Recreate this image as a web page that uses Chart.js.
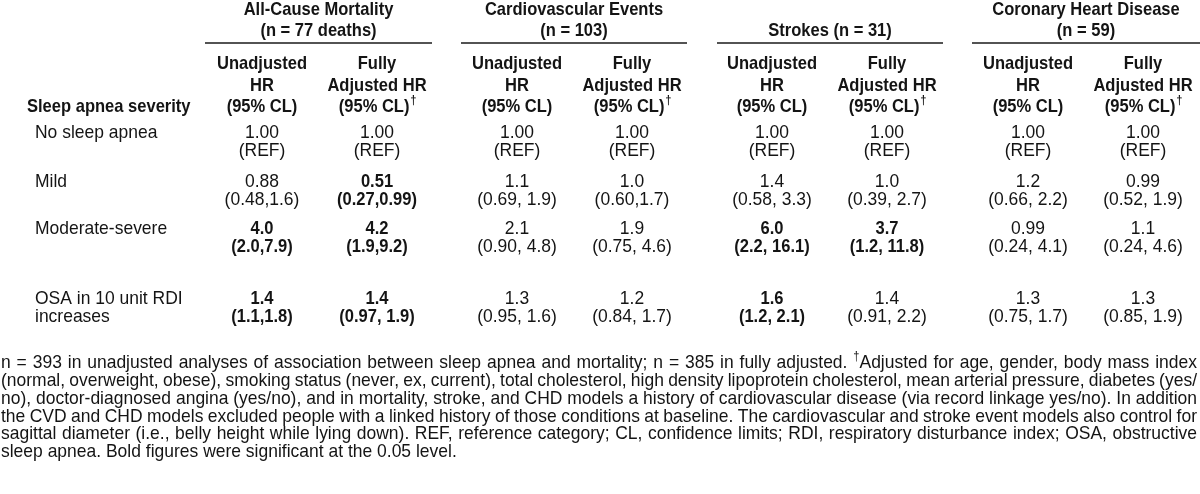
<!DOCTYPE html>
<html><head><meta charset="utf-8">
<script src="https://cdn.jsdelivr.net/npm/chart.js@4.4.1/dist/chart.umd.min.js"></script>
<style>html,body{margin:0;padding:0;background:#fff;}#wrap{width:1200px;height:494px;}</style>
</head><body><div id="wrap"><canvas id="c" width="1200" height="494"></canvas></div>
<script>
// ---------------- DATA ----------------
const outcomes = ['All-Cause Mortality', 'Cardiovascular Events', 'Strokes', 'Coronary Heart Disease'];
const outcomeCounts = ['(n = 77 deaths)', '(n = 103)', '(n = 31)', '(n = 59)'];
const unadjustedHeader = ['Unadjusted', 'HR', '(95% CL)'];
const adjustedHeader = ['Fully', 'Adjusted HR', '(95% CL)'];
const rowHeader = 'Sleep apnea severity';
const severityLabels = [['No sleep apnea'], ['Mild'], ['Moderate-severe'], ['OSA in 10 unit RDI', 'increases']];

const mortalityUnadjHR = ['1.00', '0.88', '4.0', '1.4'];
const mortalityUnadjCL = ['(REF)', '(0.48,1.6)', '(2.0,7.9)', '(1.1,1.8)'];
const mortalityUnadjSig = [false, false, true, true];
const mortalityAdjHR = ['1.00', '0.51', '4.2', '1.4'];
const mortalityAdjCL = ['(REF)', '(0.27,0.99)', '(1.9,9.2)', '(0.97, 1.9)'];
const mortalityAdjSig = [false, true, true, true];

const cvdUnadjHR = ['1.00', '1.1', '2.1', '1.3'];
const cvdUnadjCL = ['(REF)', '(0.69, 1.9)', '(0.90, 4.8)', '(0.95, 1.6)'];
const cvdUnadjSig = [false, false, false, false];
const cvdAdjHR = ['1.00', '1.0', '1.9', '1.2'];
const cvdAdjCL = ['(REF)', '(0.60,1.7)', '(0.75, 4.6)', '(0.84, 1.7)'];
const cvdAdjSig = [false, false, false, false];

const strokeUnadjHR = ['1.00', '1.4', '6.0', '1.6'];
const strokeUnadjCL = ['(REF)', '(0.58, 3.3)', '(2.2, 16.1)', '(1.2, 2.1)'];
const strokeUnadjSig = [false, false, true, true];
const strokeAdjHR = ['1.00', '1.0', '3.7', '1.4'];
const strokeAdjCL = ['(REF)', '(0.39, 2.7)', '(1.2, 11.8)', '(0.91, 2.2)'];
const strokeAdjSig = [false, false, true, false];

const chdUnadjHR = ['1.00', '1.2', '0.99', '1.3'];
const chdUnadjCL = ['(REF)', '(0.66, 2.2)', '(0.24, 4.1)', '(0.75, 1.7)'];
const chdUnadjSig = [false, false, false, false];
const chdAdjHR = ['1.00', '0.99', '1.1', '1.3'];
const chdAdjCL = ['(REF)', '(0.52, 1.9)', '(0.24, 4.6)', '(0.85, 1.9)'];
const chdAdjSig = [false, false, false, false];

const footnoteLines = [
  'n = 393 in unadjusted analyses of association between sleep apnea and mortality; n = 385 in fully adjusted. \u2020Adjusted for age, gender, body mass index',
  '(normal, overweight, obese), smoking status (never, ex, current), total cholesterol, high density lipoprotein cholesterol, mean arterial pressure, diabetes (yes/',
  'no), doctor-diagnosed angina (yes/no), and in mortality, stroke, and CHD models a history of cardiovascular disease (via record linkage yes/no). In addition',
  'the CVD and CHD models excluded people with a linked history of those conditions at baseline. The cardiovascular and stroke event models also control for',
  'sagittal diameter (i.e., belly height while lying down). REF, reference category; CL, confidence limits; RDI, respiratory disturbance index; OSA, obstructive',
  'sleep apnea. Bold figures were significant at the 0.05 level.'
];

// ---------------- LAYOUT ----------------
const W = 1200, H = 494;
const FONT = '"Liberation Sans", Arial, Helvetica, sans-serif';
const SIZE = 19, SMALL = 12;
const SX_REG = 0.92, SX_BOLD = 0.87;
const INK = '#141414';
const COL_X = [262, 377, 517, 632, 772, 887, 1028, 1143];
const GROUP_SPAN = [[205, 432], [461, 687], [717, 943], [972, 1200]];
const GROUP_ONE_LINE = [false, false, true, false];
const TITLE_Y = [10, 31];
const RULE_Y = 43;
const SUB_Y = [64, 86, 107];
const ROW_Y = [133, 182, 229, 299];
const LINE_GAP = 18;
const LABEL_X = 35, HEADER_X = 27;
const FOOT_Y = 363, FOOT_GAP = 17.8, FOOT_L = 1, FOOT_R = 1197;

const columns = [
  [mortalityUnadjHR, mortalityUnadjCL, mortalityUnadjSig],
  [mortalityAdjHR, mortalityAdjCL, mortalityAdjSig],
  [cvdUnadjHR, cvdUnadjCL, cvdUnadjSig],
  [cvdAdjHR, cvdAdjCL, cvdAdjSig],
  [strokeUnadjHR, strokeUnadjCL, strokeUnadjSig],
  [strokeAdjHR, strokeAdjCL, strokeAdjSig],
  [chdUnadjHR, chdUnadjCL, chdUnadjSig],
  [chdAdjHR, chdAdjCL, chdAdjSig]
];

function f(bold, size) { return (bold ? 'bold ' : '') + size + 'px ' + FONT; }
function sx(bold) { return bold ? SX_BOLD : SX_REG; }
function txt(ctx, s, x, y, bold, align, size) {
  ctx.save();
  ctx.font = f(bold, size || SIZE);
  ctx.fillStyle = INK;
  ctx.textBaseline = 'middle';
  ctx.textAlign = align || 'center';
  ctx.translate(x, y);
  ctx.scale(sx(bold), 1);
  ctx.fillText(s, 0, 0);
  ctx.restore();
}
function mw(ctx, s, bold, size) { ctx.save(); ctx.font = f(bold, size || SIZE); const w = ctx.measureText(s).width * sx(bold); ctx.restore(); return w; }
function txtDagger(ctx, s, cx, y, bold) {
  const w = mw(ctx, s, bold), d = mw(ctx, '\u2020', bold, SMALL);
  const x0 = cx - (w + d) / 2;
  txt(ctx, s, x0, y, bold, 'left');
  txt(ctx, '\u2020', x0 + w + 1, y - 6, bold, 'left', SMALL);
}

const tablePlugin = {
  id: 'table',
  beforeDraw(chart) {
    const ctx = chart.ctx;
    ctx.save(); ctx.fillStyle = '#fff'; ctx.fillRect(0, 0, chart.width, chart.height); ctx.restore();
  },
  afterDatasetsDraw(chart) {
    const ctx = chart.ctx, xs = chart.scales.x, ys = chart.scales.y;
    outcomes.forEach((o, g) => {
      const x1 = xs.getPixelForValue(GROUP_SPAN[g][0]), x2 = xs.getPixelForValue(GROUP_SPAN[g][1]);
      const cx = (x1 + x2) / 2;
      if (GROUP_ONE_LINE[g]) {
        txt(ctx, o + ' ' + outcomeCounts[g], cx, ys.getPixelForValue(TITLE_Y[1]), true);
      } else {
        txt(ctx, o, cx, ys.getPixelForValue(TITLE_Y[0]), true);
        txt(ctx, outcomeCounts[g], cx, ys.getPixelForValue(TITLE_Y[1]), true);
      }
      ctx.save();
      ctx.strokeStyle = '#1a1a1a'; ctx.lineWidth = 1.6;
      ctx.beginPath();
      const ry = ys.getPixelForValue(RULE_Y);
      ctx.moveTo(x1, ry); ctx.lineTo(x2, ry); ctx.stroke();
      ctx.restore();
    });
    COL_X.forEach((cxv, c) => {
      const cx = xs.getPixelForValue(cxv);
      const hdr = c % 2 === 0 ? unadjustedHeader : adjustedHeader;
      txt(ctx, hdr[0], cx, ys.getPixelForValue(SUB_Y[0]), true);
      txt(ctx, hdr[1], cx, ys.getPixelForValue(SUB_Y[1]), true);
      if (c % 2 === 0) txt(ctx, hdr[2], cx, ys.getPixelForValue(SUB_Y[2]), true);
      else txtDagger(ctx, hdr[2], cx, ys.getPixelForValue(SUB_Y[2]), true);
    });
    txt(ctx, rowHeader, xs.getPixelForValue(HEADER_X), ys.getPixelForValue(SUB_Y[2]), true, 'left');
    severityLabels.forEach((lines, i) => {
      lines.forEach((l, k) => txt(ctx, l, xs.getPixelForValue(LABEL_X), ys.getPixelForValue(ROW_Y[i] + k * LINE_GAP), false, 'left'));
    });
    chart.data.datasets.forEach((ds, c) => {
      const meta = chart.getDatasetMeta(c);
      meta.data.forEach((el, i) => {
        const [hr, cl, sig] = columns[c];
        txt(ctx, hr[i], el.x, el.y, sig[i]);
        txt(ctx, cl[i], el.x, el.y + LINE_GAP, sig[i]);
      });
    });
    footnoteLines.forEach((line, k) => {
      const y = ys.getPixelForValue(FOOT_Y + k * FOOT_GAP);
      const words = line.split(' ');
      const parts = words.map(wd => {
        if (wd.startsWith('\u2020')) {
          const rest = wd.slice(1);
          return { dag: true, rest, w: mw(ctx, '\u2020', false, SMALL) + mw(ctx, rest, false) };
        }
        return { dag: false, rest: wd, w: mw(ctx, wd, false) };
      });
      const total = parts.reduce((a, p) => a + p.w, 0);
      const spaceW = mw(ctx, ' ', false);
      const justify = k < footnoteLines.length - 1;
      const gap = justify ? (FOOT_R - FOOT_L - total) / (parts.length - 1) : spaceW;
      let x = xs.getPixelForValue(FOOT_L);
      parts.forEach(p => {
        if (p.dag) {
          txt(ctx, '\u2020', x, y - 6, false, 'left', SMALL);
          txt(ctx, p.rest, x + mw(ctx, '\u2020', false, SMALL), y, false, 'left');
        } else {
          txt(ctx, p.rest, x, y, false, 'left');
        }
        x += p.w + gap;
      });
    });
  }
};

new Chart(document.getElementById('c'), {
  type: 'scatter',
  data: {
    datasets: columns.map((col, c) => ({
      label: 'col' + c,
      data: col[0].map((v, i) => ({ x: COL_X[c], y: ROW_Y[i] })),
      pointRadius: 0, pointHoverRadius: 0, showLine: false
    }))
  },
  options: {
    responsive: false, animation: false, devicePixelRatio: 1,
    layout: { padding: 0 },
    events: [],
    scales: {
      x: { type: 'linear', min: 0, max: W, display: false },
      y: { type: 'linear', min: 0, max: H, reverse: true, display: false }
    },
    plugins: { legend: { display: false }, tooltip: { enabled: false } }
  },
  plugins: [tablePlugin]
});
</script></body></html>
